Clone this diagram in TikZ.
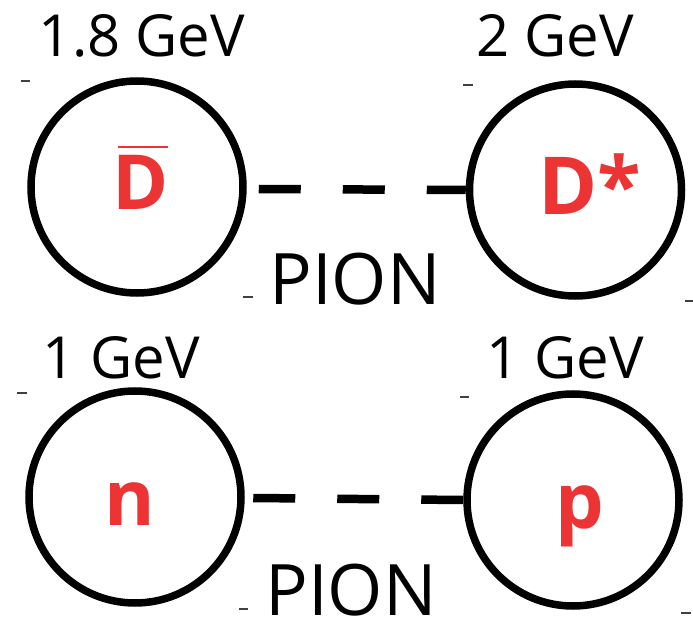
\documentclass[tikz,border=0pt]{standalone}
\usepackage{fontspec}
\setmainfont{Open Sans}
\definecolor{pred}{RGB}{236,52,52}
\begin{document}
\begin{tikzpicture}[x=1pt,y=-1pt,
  particle/.style={circle,draw=black,line width=7.5pt,inner sep=0pt,minimum size=212pt},
  conn/.style={line width=8.5pt,dash pattern=on 42pt off 42pt},
  lbl/.style={font=\fontsize{58}{66}\selectfont,anchor=base,inner sep=0pt},
  pion/.style={font=\fontsize{71}{80}\selectfont,anchor=base,inner sep=0pt},
  sym/.style={font=\fontsize{76}{86}\selectfont\bfseries,text=pred,anchor=base,inner sep=0pt},
  symb/.style={font=\fontsize{80}{90}\selectfont\bfseries,text=pred,anchor=base,inner sep=0pt},
  symc/.style={font=\fontsize{77}{87}\selectfont\bfseries,text=pred,anchor=base,inner sep=0pt},
  tick/.style={line width=1.3pt,draw=black!75}]
\useasboundingbox (0,0) rectangle (693,617);
\node[particle] (dbar) at (137,187) {};
\node[particle] (dstar) at (575.5,190) {};
\node[particle] (n) at (135,497) {};
\node[particle] (p) at (573,500) {};
\draw[conn] ([xshift=12pt,yshift=-2pt]dbar.east) -- (dstar.west);
\draw[conn] ([xshift=8.5pt,yshift=-1pt]n.east) -- (p.west);
\node[lbl] (l1) at (142,57) {1.8 GeV};
\node[lbl] (l2) at (555,57) {2 GeV};
\node[pion] (pi1) at (355,305) {PION};
\node[lbl] (l3) at (121,378) {1 GeV};
\node[lbl] (l4) at (565,378) {1 GeV};
\node[pion] (pi2) at (351,615) {PION};
\node[sym] (sdbar) at (141,210) {D};
\draw[pred,line width=2pt] (118,147) -- (168,147);
\node[symb] (sdstar) at (590,215) {D*};
\node[symc] (sn) at (130,525) {n};
\node[symc] (sp) at (580,528) {p};
\draw[tick] (21,81) -- (30,81);
\draw[tick] (463,85) -- (473,85);
\draw[tick] (243,297) -- (253,297);
\draw[tick] (685,301) -- (693,301);
\draw[tick] (17,393) -- (27,393);
\draw[tick] (460,397) -- (469,397);
\draw[tick] (239,609) -- (248,609);
\draw[tick] (681,613) -- (691,613);
\end{tikzpicture}
\end{document}
